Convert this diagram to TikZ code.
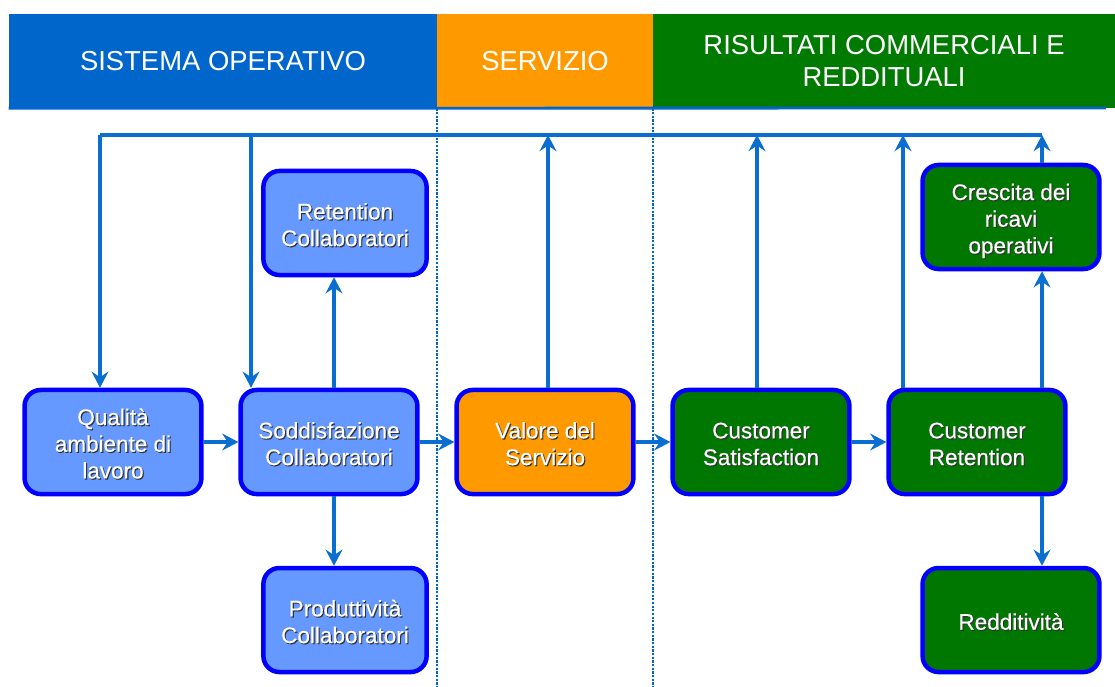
\documentclass[tikz,border=0pt]{standalone}
\usepackage{fontspec}
\setmainfont{Liberation Sans}
\newfontfamily\boxfont[FakeBold=0.4]{Liberation Sans}
\usepackage{xcolor}
\usepackage{tikz}
\usetikzlibrary{arrows.meta}
\definecolor{hdrblue}{HTML}{0066CC}
\definecolor{hdrorange}{HTML}{FF9900}
\definecolor{hdrgreen}{HTML}{007A00}
\definecolor{boxblue}{HTML}{6699FF}
\definecolor{boxgreen}{HTML}{007700}
\definecolor{linkblue}{HTML}{0A6ED1}
\newcommand{\txtstack}[1]{\begin{tabular}{@{}c@{}}#1\end{tabular}}
\newcommand{\shtext}[1]{\raisebox{-3.5pt}[\height][\depth]{%
  \rlap{\kern0.8pt\raisebox{-0.8pt}{\color{black!80}\txtstack{#1}}}\txtstack{#1}}}
\tikzset{
  hdr/.style={inner sep=0pt, minimum height=2.35cm, text=white, align=center,
              font=\fontsize{19.5}{23}\selectfont},
  box/.style={draw=blue, line width=3.2pt, rounded corners=0.4cm, inner sep=0pt,
              minimum width=4.42cm, minimum height=2.6cm, text=white,
              font=\boxfont\fontsize{16}{19}\selectfont},
  small/.style={minimum width=4.08cm},
  link/.style={draw=linkblue, line width=2.2pt},
  arr/.style={link, -{Stealth[length=11.5pt, width=12pt, inset=4pt]}},
  sep/.style={draw=hdrblue, line width=1.6pt, densely dotted}
}

\begin{document}
\begin{tikzpicture}[x=0.025cm, y=-0.025cm]
    \useasboundingbox (0,0) rectangle (1115,686);

    % intestazioni
    \node[hdr, fill=hdrblue, minimum width=10.7cm] (hdrA) at (223,61) {SISTEMA OPERATIVO};
    \node[hdr, fill=hdrorange, minimum width=5.4cm] (hdrB) at (545,61) {SERVIZIO};
    \node[hdr, fill=hdrgreen, minimum width=11.55cm] (hdrC) at (884,61)
      {RISULTATI COMMERCIALI E\\REDDITUALI};
    \draw[hdrblue, line width=2pt] (hdrA.south west) -- (1106,108);

    % separatori
    \draw[sep] (hdrB.south west) -- ++(0,578);
    \draw[sep] (hdrB.south east) -- ++(0,578);

    % riquadri
    \node[box, fill=boxblue] (qual) at (113,442) {\shtext{Qualità\\ambiente di\\lavoro}};
    \node[box, fill=boxblue] (sodd) at (329,442) {\shtext{Soddisfazione\\Collaboratori}};
    \node[box, small, fill=boxblue] (ret) at (345,223) {\shtext{Retention\\Collaboratori}};
    \node[box, small, fill=boxblue] (prod) at (345,620) {\shtext{Produttività\\Collaboratori}};
    \node[box, fill=hdrorange] (valore) at (545,442) {\shtext{Valore del\\Servizio}};
    \node[box, fill=boxgreen] (csat) at (761,442) {\shtext{Customer\\Satisfaction}};
    \node[box, fill=boxgreen] (cret) at (977,442) {\shtext{Customer\\Retention}};
    \node[box, fill=boxgreen] (cresc) at (1011,217) {\shtext{Crescita dei\\ricavi\\operativi}};
    \node[box, fill=boxgreen] (redd) at (1011,620) {\shtext{Redditività}};

    % anello di ritorno
    \coordinate (t1) at (100,135);
    \coordinate (t2) at (251,135);
    \coordinate (t3) at (548,135);
    \coordinate (t4) at (757,135);
    \coordinate (t5) at (903,135);
    \coordinate (t6) at (1042,135);
    \coordinate (c1) at (334,135);
    \draw[link] (t1) -- (t6);
    \draw[arr] (t1) -- (t1 |- qual.north);
    \draw[arr] (t2) -- (t2 |- sodd.north);
    \draw[arr] (t3 |- valore.north) -- (t3);
    \draw[arr] (t4 |- csat.north) -- (t4);
    \draw[arr] (t5 |- cret.north) -- (t5);
    \draw[arr] (t6 |- cresc.north) -- (t6);

    % flusso principale
    \draw[arr] (qual) -- (sodd);
    \draw[arr] (sodd) -- (valore);
    \draw[arr] (valore) -- (csat);
    \draw[arr] (csat) -- (cret);
    \draw[arr] (c1 |- sodd.north) -- (c1 |- ret.south);
    \draw[arr] (c1 |- sodd.south) -- (c1 |- prod.north);
    \draw[arr] (t6 |- cret.north) -- (t6 |- cresc.south);
    \draw[arr] (t6 |- cret.south) -- (t6 |- redd.north);
\end{tikzpicture}
\end{document}
